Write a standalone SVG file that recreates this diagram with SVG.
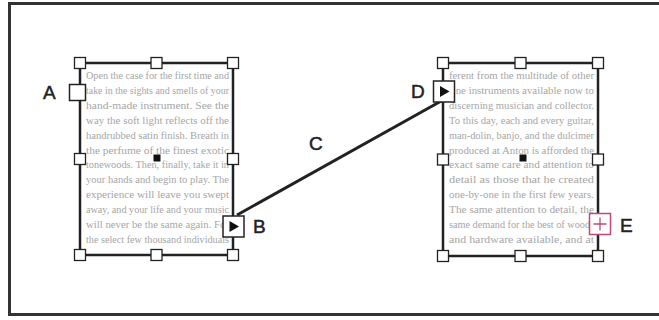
<svg xmlns="http://www.w3.org/2000/svg" width="659" height="320" viewBox="0 0 659 320">
<style>
.frame{fill:none;stroke:#222;stroke-width:2.5}
.h{fill:#fff;stroke:#222;stroke-width:1.3}
.port{fill:#fff;stroke:#222;stroke-width:1.5}
.c{fill:#111}
.tx{font-family:"Liberation Serif","Times New Roman",serif;font-size:11px;fill:#a6a6a6}
.lbl{font-family:"Liberation Sans",Arial,sans-serif;font-size:19px;fill:#222;stroke:#222;stroke-width:0.5}
.conn{stroke:#222;stroke-width:3;fill:none}
</style>
<rect x="9.5" y="3.5" width="660" height="311" fill="#fff" stroke="#333" stroke-width="3"/>
<g id="frame1">
<g class="tx">
<text x="86" y="79" textLength="143" lengthAdjust="spacingAndGlyphs">Open the case for the first time and</text>
<text x="86" y="93.9" textLength="143" lengthAdjust="spacingAndGlyphs">take in the sights and smells of your</text>
<text x="86" y="108.8" textLength="143" lengthAdjust="spacingAndGlyphs">hand-made instrument. See the</text>
<text x="86" y="123.7" textLength="143" lengthAdjust="spacingAndGlyphs">way the soft light reflects off the</text>
<text x="86" y="138.6" textLength="143" lengthAdjust="spacingAndGlyphs">handrubbed satin finish. Breath in</text>
<text x="86" y="153.5" textLength="143" lengthAdjust="spacingAndGlyphs">the perfume of the finest exotic</text>
<text x="86" y="168.4" textLength="143" lengthAdjust="spacingAndGlyphs">tonewoods. Then, finally, take it in</text>
<text x="86" y="183.3" textLength="143" lengthAdjust="spacingAndGlyphs">your hands and begin to play. The</text>
<text x="86" y="198.2" textLength="143" lengthAdjust="spacingAndGlyphs">experience will leave you swept</text>
<text x="86" y="213.1" textLength="143" lengthAdjust="spacingAndGlyphs">away, and your life and your music</text>
<text x="86" y="228" textLength="143" lengthAdjust="spacingAndGlyphs">will never be the same again. For</text>
<text x="86" y="242.9" textLength="143" lengthAdjust="spacingAndGlyphs">the select few thousand individuals</text>
</g>
<rect class="frame" x="80" y="63" width="153" height="192"/>
<rect class="h" x="74.5" y="57.5" width="11" height="11"/>
<rect class="h" x="151" y="57.5" width="11" height="11"/>
<rect class="h" x="227.5" y="57.5" width="11" height="11"/>
<rect class="h" x="74.5" y="153.5" width="11" height="11"/>
<rect class="h" x="227.5" y="153.5" width="11" height="11"/>
<rect class="h" x="74.5" y="249.5" width="11" height="11"/>
<rect class="h" x="151" y="249.5" width="11" height="11"/>
<rect class="h" x="227.5" y="249.5" width="11" height="11"/>
<rect class="c" x="153.5" y="154.5" width="7" height="7"/>
</g>
<g id="frame2">
<g class="tx">
<text x="449" y="79" textLength="145" lengthAdjust="spacingAndGlyphs">ferent from the multitude of other</text>
<text x="449" y="93.9" textLength="145" lengthAdjust="spacingAndGlyphs">fine instruments available now to</text>
<text x="449" y="108.8" textLength="145" lengthAdjust="spacingAndGlyphs">discerning musician and collector.</text>
<text x="449" y="123.7" textLength="145" lengthAdjust="spacingAndGlyphs">To this day, each and every guitar,</text>
<text x="449" y="138.6" textLength="145" lengthAdjust="spacingAndGlyphs">man-dolin, banjo, and the dulcimer</text>
<text x="449" y="153.5" textLength="145" lengthAdjust="spacingAndGlyphs">produced at Anton is afforded the</text>
<text x="449" y="168.4" textLength="145" lengthAdjust="spacingAndGlyphs">exact same care and attention to</text>
<text x="449" y="183.3" textLength="145" lengthAdjust="spacingAndGlyphs">detail as those that he created</text>
<text x="449" y="198.2" textLength="145" lengthAdjust="spacingAndGlyphs">one-by-one in the first few years.</text>
<text x="449" y="213.1" textLength="145" lengthAdjust="spacingAndGlyphs">The same attention to detail, the</text>
<text x="449" y="228" textLength="145" lengthAdjust="spacingAndGlyphs">same demand for the best of woods</text>
<text x="449" y="242.9" textLength="145" lengthAdjust="spacingAndGlyphs">and hardware available, and at</text>
</g>
<rect class="frame" x="443" y="63" width="155" height="193"/>
<rect class="h" x="437.5" y="57.5" width="11" height="11"/>
<rect class="h" x="515" y="57.5" width="11" height="11"/>
<rect class="h" x="592.5" y="57.5" width="11" height="11"/>
<rect class="h" x="437.5" y="154" width="11" height="11"/>
<rect class="h" x="592.5" y="154" width="11" height="11"/>
<rect class="h" x="437.5" y="250.5" width="11" height="11"/>
<rect class="h" x="515" y="250.5" width="11" height="11"/>
<rect class="h" x="592.5" y="250.5" width="11" height="11"/>
<rect class="c" x="519.5" y="154.5" width="7" height="7"/>
</g>
<g id="connectors">
<line class="conn" x1="237" y1="215" x2="443" y2="100"/>
</g>
<g id="portA">
<rect class="port" x="69.5" y="84.5" width="16" height="16"/>
<text class="lbl" x="43" y="99">A</text>
</g>
<g id="portB">
<rect class="port" x="223" y="216" width="21" height="21"/>
<path d="M229.5 221 L239 226.5 L229.5 232 Z" fill="#111"/>
<text class="lbl" x="253" y="233">B</text>
</g>
<g id="labelC">
<text class="lbl" x="309" y="150">C</text>
</g>
<g id="portD">
<rect class="port" x="433.5" y="81" width="21" height="21"/>
<path d="M440 86 L449.5 91.5 L440 97 Z" fill="#111"/>
<text class="lbl" x="411" y="98">D</text>
</g>
<g id="portE">
<rect x="589.5" y="213.5" width="21" height="21" fill="#fff" stroke="#c2487a" stroke-width="1.5"/>
<path d="M593.5 224 H606.5 M600 217.5 V230.5" stroke="#c2487a" stroke-width="1.3" fill="none"/>
<text class="lbl" x="620" y="232">E</text>
</g>
</svg>
